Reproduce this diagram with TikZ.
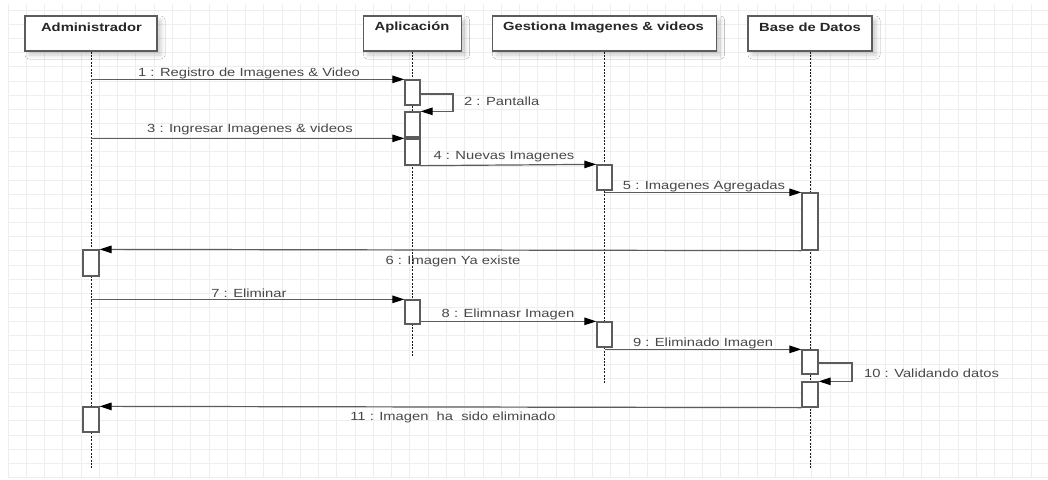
\documentclass[tikz,border=0pt]{standalone}
\usepackage{fontspec}
\setmainfont{Liberation Sans}[FakeStretch=1.25]
\usetikzlibrary{arrows.meta,shadows.blur}
\definecolor{edge}{HTML}{5C5C5C}
\definecolor{msgtext}{HTML}{484848}
\definecolor{gridc}{HTML}{EEEEEE}
\begin{document}
\begin{tikzpicture}[x=1pt,y=-1pt,
  every node/.style={font=\fontsize{11.8}{13}\selectfont},
  headbox/.style={draw=edge, line width=1.3pt, fill=white, minimum height=35pt,
    inner sep=0pt, blur shadow={shadow xshift=4pt, shadow yshift=-4pt,
    shadow blur radius=4pt, shadow opacity=20}},
  headtext/.style={font=\fontsize{11.8}{13}\selectfont\bfseries, text=black!85, inner sep=0pt},
  actbox/.style={draw=edge, line width=1.3pt, fill=white, minimum width=15pt, inner sep=0pt},
  lifeline/.style={black!90, line width=0.9pt, dash pattern=on 2pt off 1.4pt},
  msg/.style={draw=edge, line width=1.2pt, -{Triangle[length=12pt,width=7.5pt,black]}},
  msglabel/.style={text=msgtext, inner sep=0pt}
]
\useasboundingbox (0,0) rectangle (1048,479);
\fill[white] (0,0) rectangle (1048,479);

% background grid
\begin{scope}[gridc, line width=0.9pt]
  \foreach \i in {0,...,56} { \draw ({8+18.27*\i},4) -- ({8+18.27*\i},477); }
  \foreach \j in {0,...,33} { \draw (8,{10.2+14.16*\j}) -- (1048,{10.2+14.16*\j}); }
\end{scope}

% participants
\node[headbox, minimum width=132pt] (adm) at (91,33.5) {};
\node[headbox, minimum width=98pt]  (app) at (412.5,33.5) {};
\node[headbox, minimum width=224pt] (ges) at (604.5,33.5) {};
\node[headbox, minimum width=124pt] (bd)  at (810,33.5) {};
\node[headtext] (admT) at (91.5,27) {Administrador};
\node[headtext] (appT) at (412,27) {Aplicación};
\node[headtext] (gesT) at (603.5,27) {Gestiona Imagenes \& videos};
\node[headtext] (bdT)  at (810,27) {Base de Datos};

% lifeline ends
\coordinate (admEnd) at (91,469);
\coordinate (appEnd) at (412.5,357);
\coordinate (gesEnd) at (604.5,384);
\coordinate (bdEnd)  at (810,469);
\draw[lifeline] (adm.south) -- (admEnd);
\draw[lifeline] (app.south) -- (appEnd);
\draw[lifeline] (ges.south) -- (gesEnd);
\draw[lifeline] (bd.south) -- (bdEnd);

% activation bars
\node[actbox, minimum height=25pt] (a1) at (412.5,92.5) {};
\node[actbox, minimum height=25pt] (a2) at (412.5,124.5) {};
\node[actbox, minimum height=26pt] (a3) at (412.5,152) {};
\node[actbox, minimum height=24pt] (a4) at (412.5,312) {};
\node[actbox, minimum height=25pt] (g1) at (604.5,177.5) {};
\node[actbox, minimum height=25pt] (g2) at (604.5,334.5) {};
\node[actbox, minimum height=57pt, minimum width=16pt] (b1) at (810,221.5) {};
\node[actbox, minimum height=24pt, minimum width=16pt] (b2) at (810,362) {};
\node[actbox, minimum height=25pt, minimum width=16pt] (b3) at (810,394.5) {};
\node[actbox, minimum height=26pt, minimum width=16pt] (m1) at (91,263) {};
\node[actbox, minimum height=25pt, minimum width=16pt] (m2) at (91,419.5) {};

% messages
\coordinate (loop2) at (453,94);
\coordinate (loop10) at (852,363);
\draw[msg] (adm.south |- a1.north) -- (a1.north west);
\draw[msg] (a1.east |- loop2) -- (loop2) -- (loop2 |- a2.north) -- (a2.north east);
\draw[msg] (adm.south |- a3.north) -- (a3.north west);
\draw[msg] (a3.south east) -- (g1.north west);
\draw[msg] (ges.south |- b1.north) -- (b1.north west);
\draw[msg] (b1.south west) -- (m1.north east);
\draw[msg] (adm.south |- a4.north) -- (a4.north west);
\draw[msg] (a4.east |- g2.north) -- (g2.north west);
\draw[msg] (ges.south |- b2.north) -- (b2.north west);
\draw[msg] (b2.east |- loop10) -- (loop10) -- (loop10 |- b3.north) -- (b3.north east);
\draw[msg] (b3.south west) -- (m2.north east);

% message labels
\node[msglabel] (l1) at (249,73) {1 : Registro de Imagenes \& Video};
\node[msglabel, anchor=west] (l2) at (464,101) {2 : Pantalla};
\node[msglabel] (l3) at (250,129) {3 : Ingresar Imagenes \& videos};
\node[msglabel] (l4) at (504,157) {4 : Nuevas Imagenes};
\node[msglabel] (l5) at (704,186) {5 : Imagenes Agregadas};
\node[msglabel] (l6) at (453,261) {6 : Imagen Ya existe};
\node[msglabel] (l7) at (249,293) {7 : Eliminar};
\node[msglabel] (l8) at (508,314) {8 : Elimnasr Imagen};
\node[msglabel] (l9) at (703,343) {9 : Eliminado Imagen};
\node[msglabel, anchor=west] (l10) at (864,373) {10 : Validando datos};
\node[msglabel] (l11) at (453,417) {11 : Imagen\ \ ha\ \ sido eliminado};

% lifeline passing over the label of message 6
\draw[lifeline] (412.5,252) -- (412.5,272);
\end{tikzpicture}
\end{document}
